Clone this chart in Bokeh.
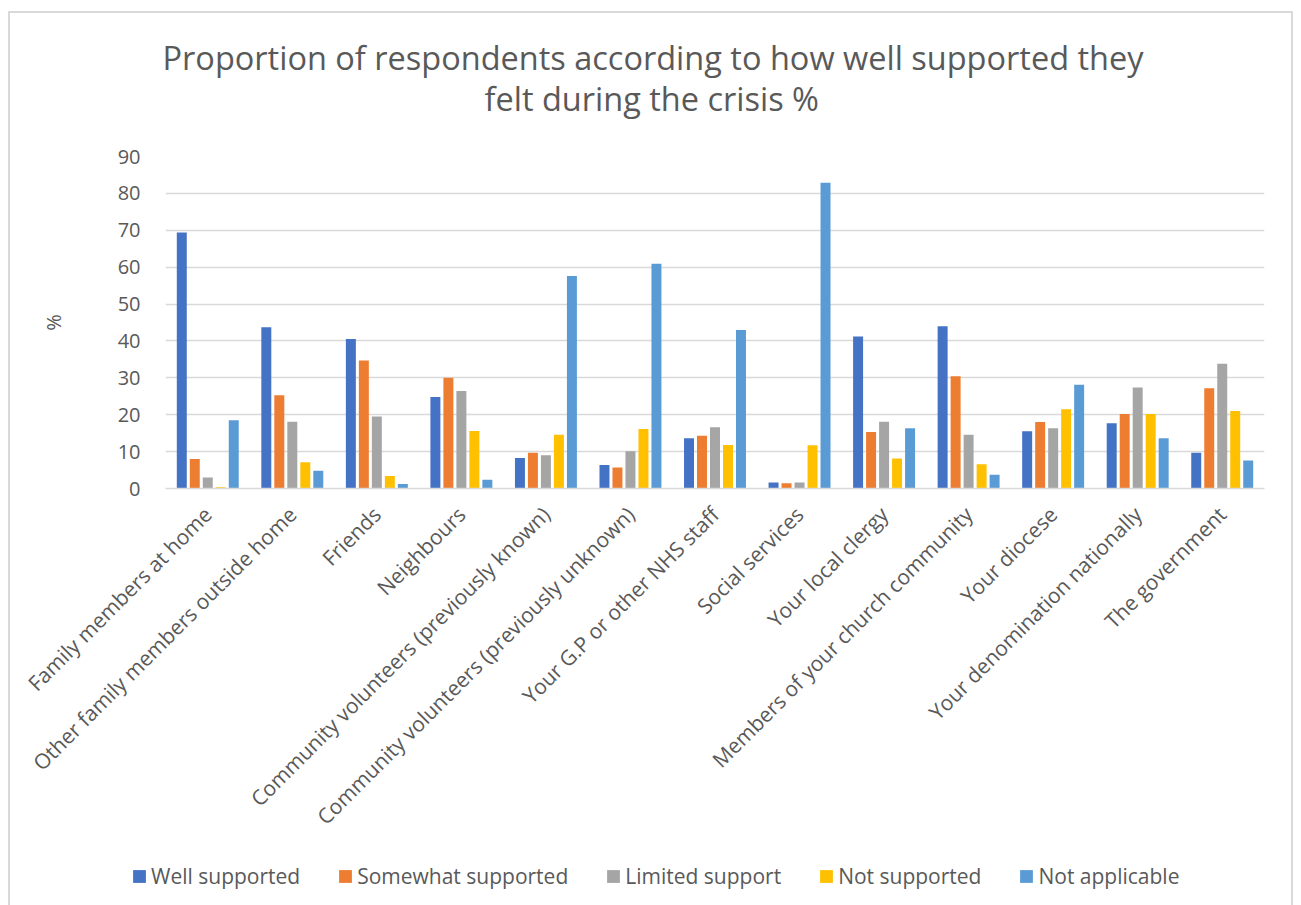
import math
from bokeh.plotting import figure
from bokeh.layouts import column
from bokeh.models import FactorRange, Range1d, FixedTicker, Legend, LegendItem, Title
from bokeh.transform import dodge
from bokeh.embed import file_html
from bokeh.resources import INLINE

categories = [
    "Family members at home",
    "Other family members outside home",
    "Friends",
    "Neighbours",
    "Community volunteers (previously known)",
    "Community volunteers (previously unknown)",
    "Your G.P or other NHS staff",
    "Social services",
    "Your local clergy",
    "Members of your church community",
    "Your diocese",
    "Your denomination nationally",
    "The government",
]

well_supported = [69.4, 43.7, 40.5, 24.8, 8.3, 6.4, 13.6, 1.6, 41.2, 44.0, 15.5, 17.7, 9.7]
somewhat_supported = [8.0, 25.3, 34.7, 30.0, 9.7, 5.7, 14.3, 1.4, 15.3, 30.4, 18.0, 20.2, 27.2]
limited_support = [3.0, 18.1, 19.5, 26.4, 9.0, 10.1, 16.6, 1.6, 18.1, 14.6, 16.3, 27.4, 33.8]
not_supported = [0.35, 7.1, 3.4, 15.6, 14.6, 16.1, 11.8, 11.7, 8.1, 6.6, 21.5, 20.2, 21.0]
not_applicable = [18.5, 4.8, 1.2, 2.4, 57.6, 60.9, 43.0, 82.9, 16.3, 3.7, 28.1, 13.6, 7.6]

series_names = ["Well supported", "Somewhat supported", "Limited support", "Not supported", "Not applicable"]
series_values = [well_supported, somewhat_supported, limited_support, not_supported, not_applicable]
colors = ["#4472C4", "#ED7D31", "#A5A5A5", "#FFC000", "#5B9BD5"]
y_ticks = [0, 10, 20, 30, 40, 50, 60, 70, 80, 90]
title_lines = ["Proportion of respondents according to how well supported they",
               "felt during the crisis %"]

FONT = "Open Sans"
TXT = "#595959"

data = {"cat": categories}
keys = []
for i, vals in enumerate(series_values):
    k = f"s{i}"
    keys.append(k)
    data[k] = vals

p = figure(
    width=1281, height=835,
    x_range=FactorRange(*categories, range_padding=0),
    y_range=Range1d(0, 90),
    output_backend="svg", toolbar_location=None,
    min_border_left=155, min_border_right=27, min_border_top=143, min_border_bottom=360,
)
p.frame_align = False

# title: two lines (p.title is the outer one, the added Title sits nearer the frame)
p.title.text = title_lines[0]
p.title.align = "left"
p.title.text_font = FONT
p.title.text_font_size = "32.5px"
p.title.text_font_style = "normal"
p.title.text_color = TXT
p.title.offset = -3
p.title.standoff = -12

t2 = Title(text=title_lines[1], align="left", text_font=FONT, text_font_size="32.5px",
           text_font_style="normal", text_color=TXT, offset=319, standoff=0,
           padding=dict(left=0, right=0, top=0, bottom=36))
p.add_layout(t2, "above")

step = 0.1537
width = 0.118
for i, k in enumerate(keys):
    p.vbar(x=dodge("cat", (i - 2) * step, range=p.x_range), top=k, width=width,
           source=data, fill_color=colors[i], line_color=None)

p.outline_line_color = None
p.xgrid.grid_line_color = None
p.ygrid.grid_line_color = "#D9D9D9"
p.ygrid.grid_line_width = 1.5
p.yaxis.ticker = FixedTicker(ticks=y_ticks)

p.yaxis.axis_line_color = None
p.yaxis.major_tick_line_color = None
p.yaxis.minor_tick_line_color = None
p.yaxis.major_label_standoff = 19
p.yaxis.major_label_text_font = FONT
p.yaxis.major_label_text_font_size = "20px"
p.yaxis.major_label_text_color = TXT
p.yaxis.axis_label = "%"
p.yaxis.axis_label_text_font = FONT
p.yaxis.axis_label_text_font_size = "20px"
p.yaxis.axis_label_text_font_style = "normal"
p.yaxis.axis_label_text_color = TXT
p.yaxis.axis_label_standoff = 48

p.xaxis.axis_line_color = "#D9D9D9"
p.xaxis.axis_line_width = 1.5
p.xaxis.major_tick_line_color = None
p.xaxis.minor_tick_line_color = None
p.xaxis.major_label_orientation = math.pi / 4
p.xaxis.major_label_standoff = 16
p.xaxis.major_label_text_font = FONT
p.xaxis.major_label_text_font_size = "21px"
p.xaxis.major_label_text_color = TXT

# legend strip underneath
p2 = figure(width=1281, height=57, x_range=Range1d(0, 1), y_range=Range1d(0, 1),
            output_backend="svg", toolbar_location=None,
            min_border_left=0, min_border_right=0, min_border_top=0, min_border_bottom=0)
p2.frame_align = False
p2.axis.visible = False
p2.grid.visible = False
p2.outline_line_color = None
items = []
for i, name in enumerate(series_names):
    r = p2.vbar(x=[0.5], top=[0], bottom=[0], width=0.0, fill_color=colors[i], line_color=None)
    items.append(LegendItem(label=name, renderers=[r]))
legend = Legend(items=items, orientation="horizontal", location=(121, 15),
                label_text_font=FONT, label_text_font_size="21px", label_text_color=TXT,
                glyph_width=16, glyph_height=16, label_standoff=4, spacing=37,
                padding=0, margin=0, border_line_color=None, background_fill_alpha=0)
p2.add_layout(legend, "center")

layout = column(p, p2, spacing=0)
layout.styles = {"margin-left": "8px", "margin-top": "11px",
                 "border-left": "2px solid #D9D9D9", "border-top": "2px solid #D9D9D9",
                 "border-right": "2px solid #D9D9D9"}

open("out.html", "w").write(file_html(layout, INLINE))
